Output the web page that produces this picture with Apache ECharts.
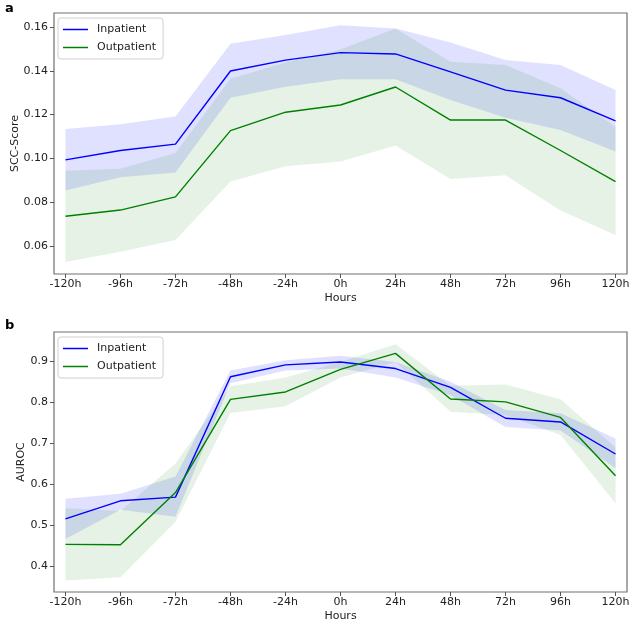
<!DOCTYPE html>
<html>
<head>
<meta charset="utf-8">
<script src="https://cdn.jsdelivr.net/npm/echarts@6/dist/echarts.min.js"></script>
<style>html,body{margin:0;padding:0;background:#fff}#c{width:631px;height:621px}</style>
</head>
<body>
<div id="c"></div>
<script>
const hours = [-120,-96,-72,-48,-24,0,24,48,72,96,120];
const hourTicks = [-120,-96,-72,-48,-24,0,24,48,72,96,120];
const sccTicks = [0.06,0.08,0.10,0.12,0.14,0.16];
const aucTicks = [0.4,0.5,0.6,0.7,0.8,0.9];

const inScc   = [0.0993,0.1036,0.1065,0.1399,0.1449,0.1483,0.1477,0.1395,0.1312,0.1277,0.1171];
const inSccHi = [0.1134,0.1156,0.1191,0.1523,0.1564,0.1608,0.1593,0.1529,0.1449,0.1426,0.1312];
const inSccLo = [0.0853,0.0914,0.0936,0.1277,0.1327,0.1361,0.1361,0.1267,0.1186,0.1130,0.1032];
const outScc   = [0.0736,0.0764,0.0824,0.1127,0.1211,0.1244,0.1326,0.1175,0.1175,0.1036,0.0894];
const outSccHi = [0.0944,0.0953,0.1025,0.1364,0.1438,0.1497,0.1593,0.1441,0.1426,0.1320,0.1145];
const outSccLo = [0.0527,0.0574,0.0627,0.0895,0.0964,0.0986,0.1059,0.0906,0.0923,0.0762,0.0650];

const inAuc   = [0.516,0.560,0.569,0.862,0.891,0.898,0.882,0.836,0.761,0.752,0.674];
const inAucHi = [0.565,0.577,0.619,0.877,0.902,0.913,0.898,0.850,0.781,0.773,0.712];
const inAucLo = [0.467,0.538,0.521,0.846,0.877,0.882,0.860,0.817,0.740,0.731,0.639];
const outAuc   = [0.454,0.453,0.580,0.807,0.825,0.880,0.919,0.808,0.801,0.763,0.621];
const outAucHi = [0.542,0.535,0.651,0.839,0.860,0.898,0.941,0.840,0.843,0.807,0.690];
const outAucLo = [0.366,0.374,0.509,0.774,0.790,0.860,0.898,0.777,0.769,0.720,0.554];

const BLUE = '#0000ff', GREEN = '#008000';
const FONT = 'DejaVu Sans';
const pairs = (ys) => hours.map((h, i) => [h, ys[i]]);

// Shaded band between lo and hi, drawn as one polygon through the axis scales.
function band(idx, hi, lo, fill) {
  return {
    type: 'custom', xAxisIndex: idx, yAxisIndex: idx, silent: true, z: 1,
    data: hours.map((h, i) => [h, lo[i], hi[i]]),
    encode: { x: 0, y: [1, 2] },
    renderItem: function (params, api) {
      if (params.dataIndex !== 0) return null;
      const top = hours.map((h, i) => api.coord([h, hi[i]]));
      const bot = hours.map((h, i) => api.coord([h, lo[i]])).reverse();
      return { type: 'polygon', shape: { points: top.concat(bot) },
        style: { fill: fill, stroke: null } };
    }
  };
}
function line(idx, name, ys, color) {
  return { type: 'line', xAxisIndex: idx, yAxisIndex: idx, name: name, data: pairs(ys),
    symbol: 'none', lineStyle: { color: color, width: 1.4 }, itemStyle: { color: color }, z: 3 };
}
function xAxis(idx) {
  return { type: 'value', gridIndex: idx, min: -125, max: 125,
    name: 'Hours', nameLocation: 'middle', nameGap: 19,
    nameTextStyle: { fontFamily: FONT, fontSize: 11, color: '#222' },
    axisLine: { show: false, onZero: false }, splitLine: { show: false },
    axisTick: { show: true, customValues: hourTicks, length: 4, lineStyle: { color: '#555' } },
    axisLabel: { customValues: hourTicks, formatter: v => v + 'h', margin: 5,
      fontFamily: FONT, fontSize: 11, color: '#222' } };
}
function yAxis(idx, min, max, ticks, name, gap, dec) {
  return { type: 'value', gridIndex: idx, min: min, max: max,
    name: name, nameLocation: 'middle', nameGap: gap, nameRotate: 90, nameMoveOverlap: false,
    nameTextStyle: { fontFamily: FONT, fontSize: 11, color: '#222' },
    axisLine: { show: false, onZero: false }, splitLine: { show: false },
    axisTick: { show: true, customValues: ticks, length: 4, lineStyle: { color: '#555' } },
    axisLabel: { customValues: ticks, formatter: v => v.toFixed(dec), margin: 6,
      fontFamily: FONT, fontSize: 11, color: '#222' } };
}
function legend(top) {
  return { left: 58, top: top, orient: 'vertical',
    data: [{ name: 'Inpatient', icon: 'rect' }, { name: 'Outpatient', icon: 'rect' }],
    itemWidth: 25, itemHeight: 1.5, itemGap: 5, padding: [5, 7, 5, 5],
    borderColor: '#d0d0d0', borderWidth: 1, borderRadius: 3, backgroundColor: '#fff',
    textStyle: { fontFamily: FONT, fontSize: 11, color: '#222', padding: [0, 0, 0, 4], lineHeight: 13 } };
}

const chart = echarts.init(document.getElementById('c'), null, { renderer: 'canvas' });
chart.setOption({
  animation: false,
  backgroundColor: '#fff',
  title: [
    { text: 'a', left: 0, top: -3, textStyle: { fontFamily: FONT, fontSize: 13, fontWeight: 'bold', color: '#000' } },
    { text: 'b', left: 0, top: 314, textStyle: { fontFamily: FONT, fontSize: 13, fontWeight: 'bold', color: '#000' } }
  ],
  grid: [
    { left: 54, right: 4, top: 13, height: 261, show: true, borderColor: '#707070', borderWidth: 1.2, backgroundColor: 'transparent', outerBoundsMode: 'none', containLabel: false },
    { left: 54, right: 4, top: 332, height: 260, show: true, borderColor: '#707070', borderWidth: 1.2, backgroundColor: 'transparent', outerBoundsMode: 'none', containLabel: false }
  ],
  legend: [legend(18), legend(337)],
  xAxis: [xAxis(0), xAxis(1)],
  yAxis: [
    yAxis(0, 0.0472, 0.1664, sccTicks, 'SCC-Score', 33, 2),
    yAxis(1, 0.338, 0.971, aucTicks, 'AUROC', 27, 1)
  ],
  series: [
    band(0, inSccHi, inSccLo, 'rgba(0,0,255,0.12)'),
    band(0, outSccHi, outSccLo, 'rgba(0,128,0,0.1)'),
    band(1, inAucHi, inAucLo, 'rgba(0,0,255,0.12)'),
    band(1, outAucHi, outAucLo, 'rgba(0,128,0,0.1)'),
    line(0, 'Inpatient', inScc, BLUE),
    line(0, 'Outpatient', outScc, GREEN),
    line(1, 'Inpatient', inAuc, BLUE),
    line(1, 'Outpatient', outAuc, GREEN)
  ]
});
</script>
</body>
</html>
